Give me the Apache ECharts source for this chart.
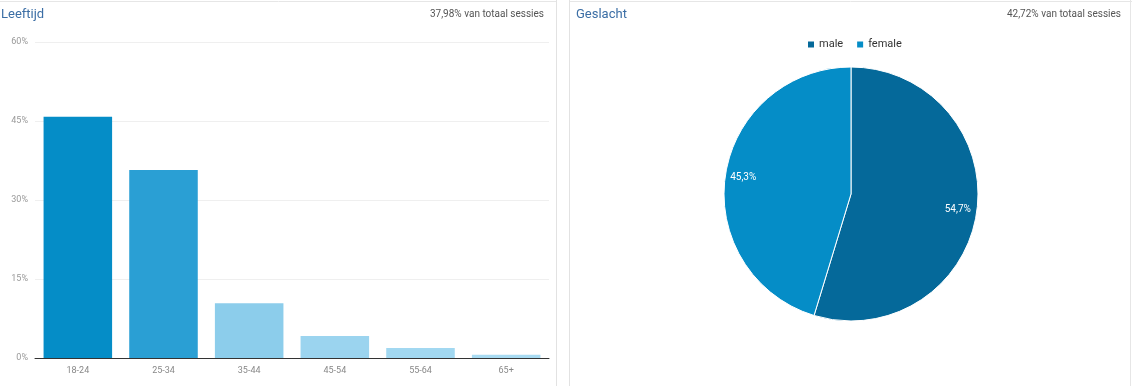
<!DOCTYPE html>
<html><head><meta charset="utf-8">
<script src="https://cdn.jsdelivr.net/npm/echarts@6/dist/echarts.min.js"></script>
<style>html,body{margin:0;padding:0;background:#fff}#c{width:1132px;height:386px}</style>
</head><body><div id="c"></div>
<script>
var ageCategories = ['18-24','25-34','35-44','45-54','55-64','65+'];
var ageValues = [45.8, 35.7, 10.4, 4.2, 1.9, 0.6];
var ageColors = ['#058dc7','#2a9fd4','#8ccdeb','#9bd4ef','#a2d8f1','#a8dbf2'];
var yTicks = [0, 15, 30, 45, 60];
var genderNames = ['male','female'];
var genderValues = [54.7, 45.3];
var genderLabels = ['54,7%','45,3%'];
var genderColors = ['#05699a','#058dc7'];

var chart = echarts.init(document.getElementById('c'));
var F = 'Roboto, "Noto Sans", sans-serif';
chart.setOption({
  animation:false,
  textStyle:{fontFamily:F},
  graphic:[
    {type:'line',shape:{x1:0,y1:1.5,x2:557,y2:1.5},style:{stroke:'#e6e6e6',lineWidth:1}},
    {type:'line',shape:{x1:556.5,y1:0,x2:556.5,y2:386},style:{stroke:'#e2e2e2',lineWidth:1}},
    {type:'line',shape:{x1:569,y1:1.5,x2:1132,y2:1.5},style:{stroke:'#e6e6e6',lineWidth:1}},
    {type:'line',shape:{x1:569.5,y1:0,x2:569.5,y2:386},style:{stroke:'#e2e2e2',lineWidth:1}},
    {type:'line',shape:{x1:1130.5,y1:0,x2:1130.5,y2:386},style:{stroke:'#e6e6e6',lineWidth:1}}
  ],
  title:[
    {text:'Leeftijd',left:1,top:8,padding:0,textStyle:{fontSize:13,fontWeight:'normal',color:'#3b6ea5',fontFamily:F}},
    {text:'37,98% van totaal sessies',right:1132-544,top:9,padding:0,textStyle:{fontSize:10,fontWeight:'normal',color:'#555',fontFamily:F}},
    {text:'Geslacht',left:576,top:8,padding:0,textStyle:{fontSize:13,fontWeight:'normal',color:'#3b6ea5',fontFamily:F}},
    {text:'42,72% van totaal sessies',right:1132-1121,top:9,padding:0,textStyle:{fontSize:10,fontWeight:'normal',color:'#555',fontFamily:F}}
  ],
  legend:{data:genderNames,left:806,top:39,padding:0,itemWidth:8,itemHeight:8,itemGap:12,icon:'rect',
    textStyle:{fontSize:11,color:'#333',padding:[0,0,0,-1]}},
  grid:{left:35,right:583,top:42,bottom:28},
  xAxis:{type:'category',data:ageCategories,
    axisLine:{lineStyle:{color:'#333',width:1}},axisTick:{show:false},
    axisLabel:{fontSize:9,color:'#888',margin:8}},
  yAxis:{type:'value',min:0,max:60,interval:15,
    axisLine:{show:false},axisTick:{show:false},
    splitLine:{lineStyle:{color:'#efefef'}},
    axisLabel:{fontSize:9,color:'#999',margin:7,formatter:function(v){return yTicks.indexOf(v)>=0? v+'%':'';}}},
  series:[
    {type:'bar',barCategoryGap:'20%',
     data:ageValues.map(function(v,i){return {value:v,itemStyle:{color:ageColors[i]}};})},
    {type:'pie',center:[851,194],radius:127,startAngle:90,clockwise:true,
     itemStyle:{borderColor:'#fff',borderWidth:1},
     label:{show:true,position:'inside',color:'#fff',fontSize:10,formatter:function(p){return genderLabels[p.dataIndex];}},
     labelLine:{show:false},
     data:genderNames.map(function(n,i){
       return {name:n,value:genderValues[i],itemStyle:{color:genderColors[i]},
         label:{offset: i===0?[41,6]:[-42,-7]}};
     })}
  ]
});
</script></body></html>
